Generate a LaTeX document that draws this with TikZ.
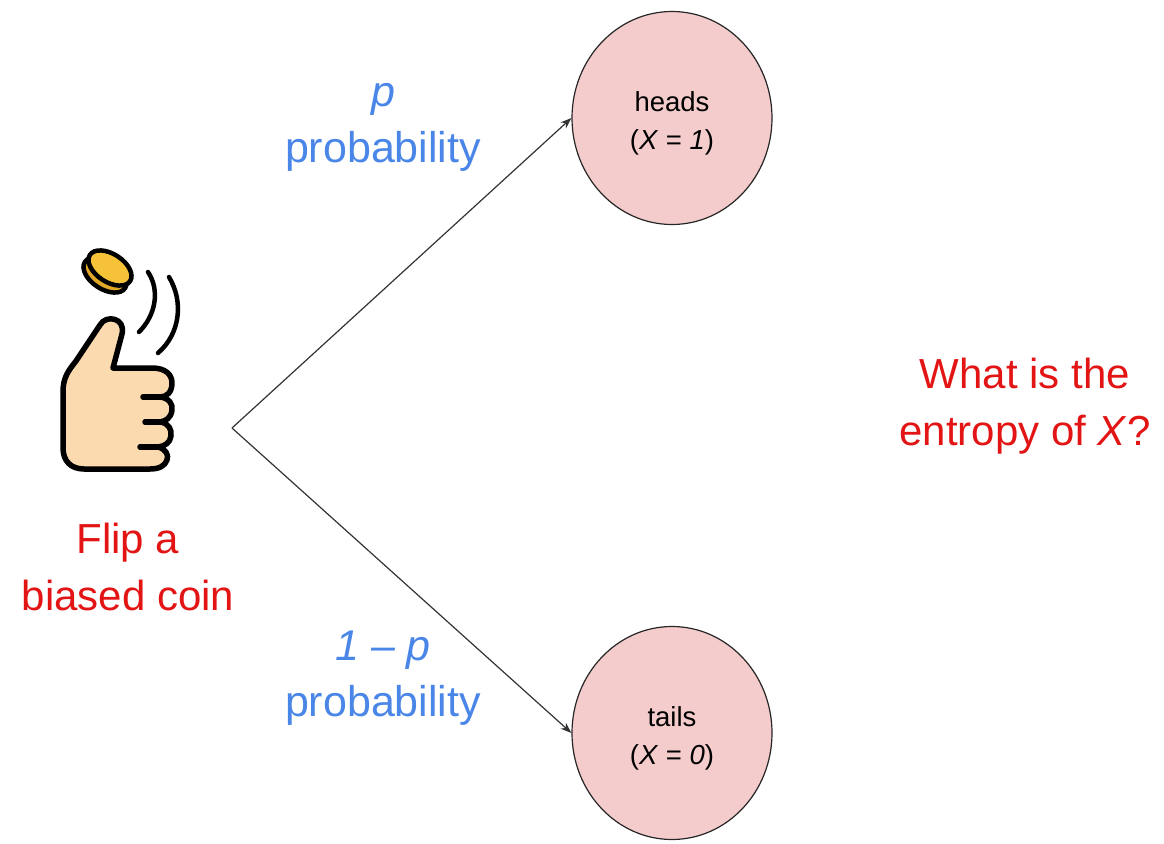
\documentclass[tikz,border=0pt]{standalone}
\usepackage{fontspec}
\setmainfont{Liberation Sans}
\usetikzlibrary{shapes.geometric,arrows.meta}
\definecolor{probblue}{HTML}{4A86E8}
\definecolor{alertred}{HTML}{E31414}
\definecolor{outcomefill}{HTML}{F4CCCC}
\definecolor{skin}{HTML}{FCDAB0}
\definecolor{coingold}{HTML}{F6C237}
\definecolor{coinrim}{HTML}{E2A726}
\begin{document}
\begin{tikzpicture}[x=1pt,y=-1pt,
  outcome/.style={ellipse, draw=black!85, line width=1.2pt, fill=outcomefill,
    minimum width=200pt, minimum height=213pt, inner sep=0pt},
  outcometext/.style={align=center, font=\fontsize{27.5}{38}\selectfont, yshift=-5pt},
  problabel/.style={text=probblue, align=center, font=\fontsize{43}{56}\selectfont},
  question/.style={text=alertred, align=center, font=\fontsize{42}{57}\selectfont},
  branch/.style={draw=black!80, line width=1.2pt, -{Stealth[length=11pt,width=8pt]}},
  ink/.style={line width=5.5pt, line join=round, line cap=round}
]
\useasboundingbox (0,0) rectangle (1164,843);

% outcomes
\node[outcome] (heads) at (672,118) {};
\node[outcometext] (headstext) at (heads.center) {heads\\(\textit{X} = \textit{1})};
\node[outcome] (tails) at (672,733) {};
\node[outcometext] (tailstext) at (tails.center) {tails\\(\textit{X} = \textit{0})};

% branches from the flip
\coordinate (fork) at (232,428);
\draw[branch] (fork) -- (heads.west);
\draw[branch] (fork) -- (tails.west);

% probabilities
\node[problabel] (pup) at (383,127) {\textit{p}\\probability};
\node[problabel] (pdown) at (383,678) {\textit{1 – p}\\probability};

% captions
\node[question] (flip) at (128,567) {Flip a\\biased coin};
\node[question] (ask) at (1025,406) {What is the\\entropy of \textit{X}?};

% coin in the air
\filldraw[line width=4.5pt, fill=coinrim] (105,275) ellipse[x radius=24, y radius=14, rotate=-33];
\filldraw[line width=4.5pt, fill=coingold] (110,268) ellipse[x radius=24, y radius=14, rotate=-33];
% motion lines
\draw[ink, line width=4.5pt] (148,272) .. controls (160,290) and (156,315) .. (139,332);
\draw[ink, line width=4.5pt] (169,277) .. controls (184,302) and (180,334) .. (158,353);

% thumbs-up hand
\filldraw[ink, fill=skin]
  (100,325) .. controls (106,314) and (126,318) .. (122,334)
  -- (113,368) -- (152,368)
  .. controls (166,368) and (172,375) .. (172,383)
  .. controls (172,392) and (167,397) .. (160,397)
  .. controls (169,398) and (173,404) .. (172,410)
  .. controls (171,418) and (166,421) .. (160,422)
  .. controls (169,423) and (172,430) .. (171,436)
  .. controls (170,443) and (165,446) .. (158,447)
  .. controls (166,449) and (169,455) .. (167,460)
  .. controls (165,466) and (159,469) .. (150,469)
  -- (84,469)
  .. controls (71,469) and (63,461) .. (63,448)
  -- (63,392)
  .. controls (63,378) and (68,371) .. (76,361)
  -- cycle;
\draw[ink] (143,397) -- (162,397);
\draw[ink] (145,422) -- (163,422);
\draw[ink] (140,447) -- (160,447);
\end{tikzpicture}
\end{document}
